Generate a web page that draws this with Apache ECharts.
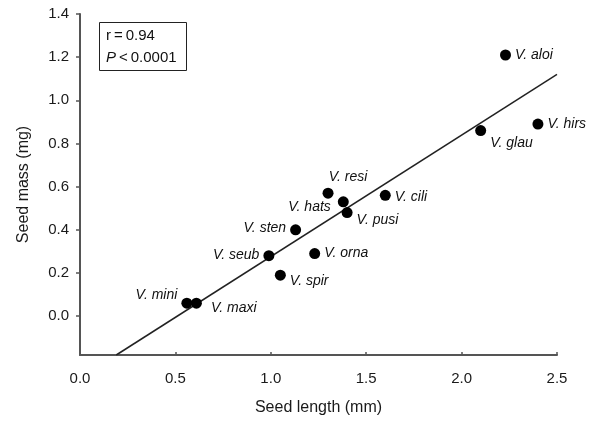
<!DOCTYPE html>
<html>
<head>
<meta charset="utf-8">
<script src="https://cdn.jsdelivr.net/npm/echarts@6/dist/echarts.min.js"></script>
<style>
  html, body { margin: 0; padding: 0; background: #fff; }
  #main { width: 597px; height: 421px; }
</style>
</head>
<body>
<div id="main"></div>
<script>
// species, seed length (mm), seed mass (mg)
var species = ['V. aloi', 'V. hirs', 'V. glau', 'V. resi', 'V. hats', 'V. cili', 'V. pusi',
  'V. sten', 'V. orna', 'V. spir', 'V. seub', 'V. mini', 'V. maxi'];
var seedLength = [2.23, 2.40, 2.10, 1.30, 1.38, 1.60, 1.40, 1.13, 1.23, 1.05, 0.99, 0.56, 0.61];
var seedMass = [1.21, 0.89, 0.86, 0.57, 0.53, 0.56, 0.48, 0.40, 0.29, 0.19, 0.28, 0.06, 0.06];
// fitted line end points
var fitLine = [[0.19, -0.18], [2.5, 1.12]];
var yTicks = [0, 0.2, 0.4, 0.6, 0.8, 1.0, 1.2, 1.4];

// where each name sits next to its dot
var labelSpots = {
  'V. aloi': { position: 'right', offset: [0, 0] },
  'V. hirs': { position: 'right', offset: [0, 0] },
  'V. glau': { position: 'right', offset: [0, 13] },
  'V. resi': { position: 'top', offset: [20, 0] },
  'V. hats': { position: 'left', offset: [-3, 5] },
  'V. cili': { position: 'right', offset: [0, 2] },
  'V. pusi': { position: 'right', offset: [0, 8] },
  'V. sten': { position: 'left', offset: [0, -2] },
  'V. orna': { position: 'right', offset: [0, 0] },
  'V. spir': { position: 'right', offset: [0, 6] },
  'V. seub': { position: 'left', offset: [0, -1] },
  'V. mini': { position: 'left', offset: [0, -8] },
  'V. maxi': { position: 'right', offset: [5, 5] }
};

var points = species.map(function (name, i) {
  var spot = labelSpots[name];
  return {
    name: name,
    value: [seedLength[i], seedMass[i]],
    label: { position: spot.position, offset: spot.offset }
  };
});

var font = 'Liberation Sans, Arial, sans-serif';
var chart = echarts.init(document.getElementById('main'));
chart.setOption({
  animation: false,
  grid: { left: 80, right: 40, top: 14, bottom: 66 },
  xAxis: {
    type: 'value',
    min: 0,
    max: 2.5,
    interval: 0.5,
    name: 'Seed length (mm)',
    nameLocation: 'middle',
    nameGap: 45,
    nameTextStyle: { fontFamily: font, fontSize: 16, color: '#1a1a1a' },
    axisLine: { show: true, onZero: false, lineStyle: { color: '#555', width: 2 } },
    axisTick: { show: true, inside: true, length: 3, lineStyle: { color: '#555', width: 1.5 } },
    axisLabel: {
      margin: 16, fontFamily: font, fontSize: 15, color: '#1a1a1a',
      formatter: function (v) { return v.toFixed(1); }
    },
    splitLine: { show: false }
  },
  yAxis: {
    type: 'value',
    min: -0.18,
    max: 1.4,
    name: 'Seed mass (mg)',
    nameLocation: 'middle',
    nameGap: 48,
    nameTextStyle: { fontFamily: font, fontSize: 16, color: '#1a1a1a' },
    axisLine: { show: true, onZero: false, lineStyle: { color: '#555', width: 2 } },
    axisTick: { show: true, length: 4, customValues: yTicks, lineStyle: { color: '#555', width: 1.5 } },
    axisLabel: {
      margin: 11, fontFamily: font, fontSize: 15, color: '#1a1a1a',
      customValues: yTicks,
      formatter: function (v) { return v.toFixed(1); }
    },
    splitLine: { show: false }
  },
  graphic: [
    {
      type: 'rect',
      shape: { x: 99.5, y: 22.5, width: 87, height: 48 },
      style: { fill: '#fff', stroke: '#222', lineWidth: 1 }
    },
    {
      type: 'text',
      x: 106, y: 25,
      style: {
        rich: { it: { fontStyle: 'italic', fontFamily: font, fontSize: 15, fill: '#111' } },
        text: 'r\u2009=\u20090.94\n{it|P}\u2009<\u20090.0001',
        fontFamily: font, fontSize: 15, fill: '#111', lineHeight: 22
      }
    }
  ],
  series: [
    {
      type: 'line',
      data: fitLine,
      showSymbol: false,
      lineStyle: { color: '#222', width: 1.5 },
      z: 2
    },
    {
      type: 'scatter',
      data: points,
      symbolSize: 11,
      itemStyle: { color: '#000', opacity: 1 },
      label: {
        show: true,
        formatter: '{b}',
        fontFamily: font,
        fontSize: 14,
        fontStyle: 'italic',
        color: '#111',
        distance: 4
      },
      z: 3
    }
  ]
});
</script>
</body>
</html>
